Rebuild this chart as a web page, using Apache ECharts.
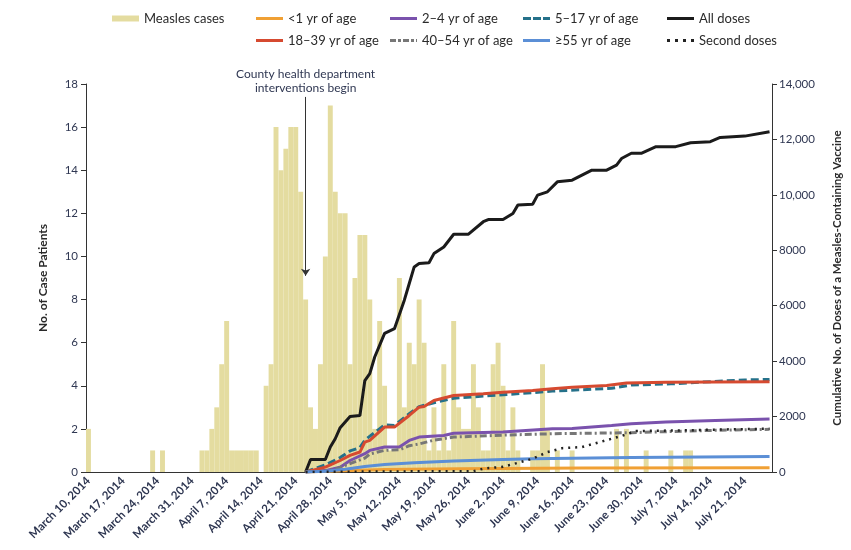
<!DOCTYPE html>
<html lang="en">
<head>
  <meta charset="UTF-8">
  <title>Measles cases and vaccine doses</title>
  <style>
    * { margin: 0; padding: 0; }
  </style>
  <script src="https://cdn.jsdelivr.net/npm/echarts@6/dist/echarts.min.js"></script>
</head>
<body>
  <div id="chart" style="width: 851px; height: 550px;"></div>
  <script>
    const myChart = echarts.init(document.getElementById('chart'))

    // days from March 10, 2014 to July 26, 2014
    const monthNames = ['January', 'February', 'March', 'April', 'May', 'June', 'July']
    const days = []
    for (let i = 0; i < 139; i++) {
      const d = new Date(2014, 2, 10 + i)
      days.push(monthNames[d.getMonth()] + ' ' + d.getDate() + ', 2014')
    }

    // measles cases per day (left axis)
    const cases = [
      2, 0, 0, 0, 0, 0, 0, 0, 0, 0, 0, 0, 0, 1, 0, 1, 0, 0, 0, 0,
      0, 0, 0, 1, 1, 2, 3, 5, 7, 1, 1, 1, 1, 1, 1, 0, 4, 5, 16, 14,
      15, 16, 16, 13, 8, 3, 2, 5, 10, 17, 13, 12, 12, 5, 9, 11, 11, 8, 2, 7,
      4, 1, 1, 9, 3, 6, 5, 8, 6, 1, 3, 1, 5, 1, 7, 3, 2, 2, 5, 3,
      1, 1, 5, 6, 4, 1, 3, 1, 0, 0, 1, 1, 5, 2, 0, 1, 0, 0, 1, 0,
      0, 0, 0, 0, 0, 0, 0, 2, 0, 2, 0, 0, 0, 1, 0, 0, 0, 0, 1, 0,
      0, 1, 1, 0, 0, 0, 0, 0, 0, 0, 0, 0, 0, 0, 0, 0, 0, 0, 0
    ]

    // cumulative doses, [day index, doses] (right axis)
    const allDoses = [[44, 0], [45, 450], [48, 450], [49, 900], [50, 1200], [51, 1600], [53, 2000], [55, 2040], [56, 3300], [57, 3550], [58, 4150], [60, 5000], [62, 5170], [64, 6200], [65, 6800], [66, 7400], [67, 7520], [69, 7550], [70, 7880], [72, 8120], [74, 8580], [77, 8580], [80, 9030], [81, 9110], [84, 9110], [86, 9330], [87, 9630], [90, 9660], [91, 9990], [93, 10110], [95, 10470], [98, 10530], [100, 10710], [102, 10890], [105, 10890], [107, 11070], [108, 11310], [110, 11500], [112, 11500], [115, 11740], [119, 11740], [122, 11880], [126, 11920], [128, 12070], [133, 12120], [138, 12280]]
    const secondDoses = [[44, 0], [60, 20], [78, 30], [80, 120], [84, 190], [87, 330], [90, 480], [93, 720], [96, 860], [100, 900], [104, 1100], [108, 1300], [111, 1480], [120, 1500], [130, 1540], [138, 1560]]
    const under1 = [[44, 0], [50, 40], [60, 90], [75, 120], [100, 140], [138, 150]]
    const age2to4 = [[44, 0], [48, 50], [51, 175], [53, 415], [56, 660], [57, 780], [60, 900], [63, 900], [65, 1140], [67, 1260], [72, 1320], [74, 1400], [84, 1440], [94, 1560], [98, 1570], [106, 1680], [110, 1740], [117, 1800], [127, 1860], [138, 1910]]
    const age5to17 = [[44, 0], [48, 260], [51, 520], [53, 760], [55, 880], [56, 1150], [60, 1700], [62, 1680], [65, 2100], [67, 2360], [70, 2500], [74, 2660], [80, 2740], [84, 2790], [90, 2860], [94, 2920], [100, 2970], [106, 3020], [110, 3140], [118, 3180], [126, 3260], [133, 3320], [138, 3340]]
    const age18to39 = [[44, 0], [48, 175], [51, 415], [53, 600], [55, 720], [56, 1080], [57, 1140], [60, 1620], [62, 1620], [65, 2040], [67, 2340], [68, 2360], [70, 2580], [74, 2760], [80, 2820], [84, 2880], [90, 2940], [94, 3000], [98, 3060], [105, 3120], [109, 3210], [117, 3240], [127, 3250], [138, 3260]]
    const age40to54 = [[44, 0], [48, 40], [50, 100], [53, 300], [56, 500], [57, 650], [60, 780], [63, 800], [65, 950], [67, 1010], [70, 1150], [74, 1260], [84, 1330], [94, 1380], [110, 1420], [126, 1500], [138, 1540]]
    const age55plus = [[44, 0], [48, 30], [52, 100], [56, 200], [60, 270], [66, 330], [74, 400], [84, 450], [90, 480], [110, 520], [138, 560]]

    const font = 'Lato'
    const labelColor = '#2f3752'

    // legend swatches
    const iconSolid = 'path://M0,0h27v3h-27z'
    const iconDashed = 'path://M0,0h8v3h-8zM10,0h8v3h-8zM20,0h7v3h-7z'
    const iconDashDot = 'path://M0,0h6v3h-6zM8,0h3v3h-3zM13,0h6v3h-6zM21,0h3v3h-3zM26,0h1v3h-1z'
    const iconDotted = 'path://M0,0h3v3h-3zM8,0h3v3h-3zM16,0h3v3h-3zM24,0h3v3h-3z'
    const iconBar = 'path://M0,0h27v6h-27z'

    function lineSeries(name, data, color, type, width) {
      return {
        name, type: 'line', yAxisIndex: 1, data, symbol: 'none', z: 3,
        lineStyle: { color, width: width || 2.5, type: type || 'solid' },
        itemStyle: { color }
      }
    }

    const legendBase = {
      orient: 'vertical', itemWidth: 27, itemHeight: 3, itemGap: 9, padding: 0,
      textStyle: { fontFamily: font, fontSize: 13, color: '#2a2a2a' }
    }

    const option = {
      backgroundColor: '#fff',
      textStyle: { fontFamily: font },
      legend: [
        { ...legendBase, left: 112, top: 12, itemHeight: 6, data: [{ name: 'Measles cases', icon: iconBar }] },
        { ...legendBase, left: 256, top: 12, data: [{ name: '<1 yr of age', icon: iconSolid }, { name: '18–39 yr of age', icon: iconSolid }] },
        { ...legendBase, left: 390, top: 12, data: [{ name: '2–4 yr of age', icon: iconSolid }, { name: '40–54 yr of age', icon: iconDashDot }] },
        { ...legendBase, left: 523, top: 12, data: [{ name: '5–17 yr of age', icon: iconDashed }, { name: '≥55 yr of age', icon: iconSolid }] },
        { ...legendBase, left: 667, top: 12, data: [{ name: 'All doses', icon: iconSolid }, { name: 'Second doses', icon: iconDotted }] }
      ],
      grid: { left: 86, right: 77, top: 84, bottom: 78 },
      xAxis: {
        type: 'category',
        data: days,
        boundaryGap: true,
        axisLine: { lineStyle: { color: '#333', width: 1 } },
        axisTick: { interval: 6, length: 5, lineStyle: { color: '#333' } },
        axisLabel: {
          interval: 6, rotate: 45, margin: 7,
          fontSize: 11.5, fontWeight: 'bold', color: labelColor, fontFamily: font
        }
      },
      yAxis: [
        {
          type: 'value', min: 0, max: 18, interval: 2,
          name: 'No. of Case Patients', nameLocation: 'middle', nameGap: 37,
          nameTextStyle: { fontSize: 12, fontWeight: 'bold', color: '#2a2a2a' },
          axisLine: { show: true, lineStyle: { color: '#333' } },
          axisTick: { show: true, length: 5, lineStyle: { color: '#333' } },
          axisLabel: { fontSize: 11.5, color: labelColor, margin: 8 },
          splitLine: { show: false }
        },
        {
          type: 'value', min: 0, max: 14000, interval: 2000, position: 'right',
          name: 'Cumulative No. of Doses of a Measles-Containing Vaccine',
          nameLocation: 'middle', nameGap: 59, nameRotate: 90,
          nameTextStyle: { fontSize: 11.5, fontWeight: 'bold', color: '#2a2a2a' },
          axisLine: { show: true, lineStyle: { color: '#333' } },
          axisTick: { show: true, length: 5, lineStyle: { color: '#333' } },
          axisLabel: {
            fontSize: 11.5, color: labelColor, margin: 7,
            formatter: v => v >= 10000 ? v.toLocaleString('en-US') : String(v)
          },
          splitLine: { show: false }
        }
      ],
      series: [
        {
          name: 'Measles cases', type: 'bar', data: cases,
          barCategoryGap: '0%', itemStyle: { color: '#e4dca0' }, z: 1,
          markLine: {
            silent: true,
            symbol: ['none', 'arrow'],
            symbolSize: 7,
            lineStyle: { color: '#333', width: 1, type: 'solid' },
            label: {
              show: true, position: 'start', distance: 2, color: labelColor,
              fontSize: 12, lineHeight: 14, fontFamily: font,
              formatter: 'County health department\ninterventions begin'
            },
            data: [[{ coord: [44, 17.4] }, { coord: [44, 9.1] }]]
          }
        },
        lineSeries('<1 yr of age', under1, '#f0a034', 'solid', 3),
        lineSeries('2–4 yr of age', age2to4, '#7a52ad', 'solid', 3),
        lineSeries('5–17 yr of age', age5to17, '#25718a', [8, 4], 3),
        lineSeries('All doses', allDoses, '#1b1b1b', 'solid', 3),
        lineSeries('18–39 yr of age', age18to39, '#d64a30', 'solid', 3),
        lineSeries('40–54 yr of age', age40to54, '#777777', [7, 3, 2, 3], 3),
        lineSeries('≥55 yr of age', age55plus, '#5b8fd6', 'solid', 3),
        lineSeries('Second doses', secondDoses, '#222', [2, 5], 2.5)
      ]
    }

    myChart.setOption(option)
  </script>
</body>
</html>
